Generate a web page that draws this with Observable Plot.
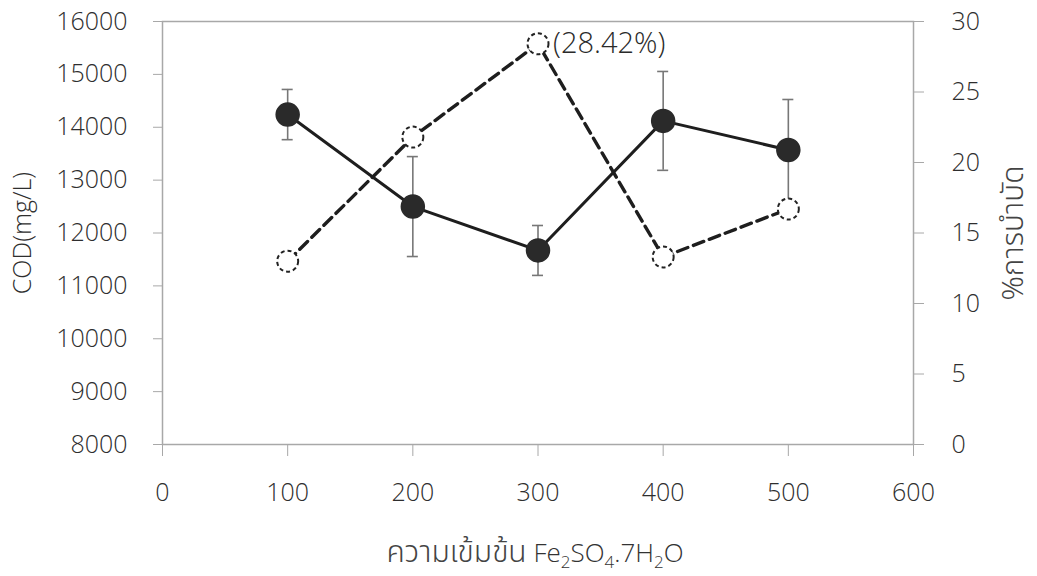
<!DOCTYPE html>
<html><head><meta charset="utf-8">
<script src="https://cdn.jsdelivr.net/npm/d3@7"></script>
<script src="https://cdn.jsdelivr.net/npm/@observablehq/plot@0.6"></script>
<style>
body{margin:0;background:#fff;font-family:"Open Sans",sans-serif;}
#wrap{position:relative;width:1037px;height:576px;}
#xlabel{position:absolute;left:535px;top:530px;transform:translateX(-50%);font-size:26px;font-weight:300;color:#333;white-space:nowrap;font-family:"Open Sans","Noto Sans Thai",sans-serif;}
#xlabel .th{font-family:"Noto Sans Thai",sans-serif;font-size:30px;font-weight:300;color:#444;}
#xlabel sub{font-size:17px;vertical-align:-6px;}
</style></head><body>
<div id="wrap"><div id="chart"></div><div id="xlabel"><span class="th">ความเข้มข้น</span> Fe<sub>2</sub>SO<sub>4</sub>.7H<sub>2</sub>O</div></div>
<script>
const concentrations = [100, 200, 300, 400, 500];
const codMean = [14240, 12500, 11670, 14120, 13570];
const codErr = [475, 945, 472, 935, 955];
const removalPct = [13.0, 21.8, 28.42, 13.3, 16.7];
const xTicks = [0, 100, 200, 300, 400, 500, 600];
const codTicks = [8000, 9000, 10000, 11000, 12000, 13000, 14000, 15000, 16000];
const pctTicks = [0, 5, 10, 15, 20, 25, 30];
const leftLabel = "COD(mg/L)";
const rightLabel = "%การบำบัด";
const peakLabel = "(28.42%)";

const toCOD = p => 8000 + p * (8000 / 30);
const fromCOD = c => (c - 8000) * 30 / 8000;

const data = concentrations.map((x, i) => ({x, cod: codMean[i], err: codErr[i], pct: removalPct[i]}));
const caps = data.flatMap(d => [d.cod - d.err, d.cod + d.err].map(y => ({x: d.x, y})));
const peak = data.reduce((a, b) => (b.pct > a.pct ? b : a));

const chart = Plot.plot({
  width: 1037,
  height: 520,
  marginLeft: 162,
  marginRight: 124,
  marginTop: 21,
  marginBottom: 76,
  style: {fontFamily: "'Open Sans', 'Noto Sans Thai', sans-serif", fontSize: "25px", fontWeight: 300, color: "#2e2e2e", background: "white", overflow: "visible"},
  x: {domain: [0, 600]},
  y: {domain: [8000, 16000]},
  marks: [
    Plot.frame({stroke: "#a8a8a8", strokeWidth: 1.5}),
    Plot.axisX(xTicks, {tickSize: 12, tickPadding: 27, stroke: "#a8a8a8", tickFormat: d => String(d), label: null}),
    Plot.axisY(codTicks, {anchor: "left", tickSize: 9, tickPadding: 26, stroke: "#a8a8a8", tickFormat: d => String(d), label: null}),
    Plot.axisY(pctTicks.map(toCOD), {anchor: "right", tickSize: 10, tickPadding: 28, stroke: "#a8a8a8", tickFormat: d => String(Math.round(fromCOD(d))), label: null}),
    Plot.text([leftLabel], {frameAnchor: "left", rotate: -90, dx: -140, textAnchor: "middle", lineAnchor: "middle", fontSize: 25}),
    Plot.text([rightLabel], {frameAnchor: "right", rotate: -90, dx: 100, textAnchor: "middle", lineAnchor: "middle", fontSize: 30, fontFamily: "'Noto Sans Thai', sans-serif", fontWeight: 300, fill: "#444"}),
    Plot.ruleX(data, {x: "x", y1: d => d.cod - d.err, y2: d => d.cod + d.err, stroke: "#777", strokeWidth: 1.6}),
    Plot.ruleY(caps, {y: "y", x1: d => d.x - 4.4, x2: d => d.x + 4.4, stroke: "#777", strokeWidth: 1.6}),
    Plot.line(data, {x: "x", y: d => toCOD(d.pct), stroke: "#1e1e1e", strokeWidth: 3.4, strokeDasharray: "11,6"}),
    Plot.line(data, {x: "x", y: "cod", stroke: "#1e1e1e", strokeWidth: 3}),
    Plot.dot(data, {x: "x", y: d => toCOD(d.pct), r: 10.5, fill: "white", stroke: "#222", strokeWidth: 2, strokeDasharray: "4,3"}),
    Plot.dot(data, {x: "x", y: "cod", r: 11.5, fill: "#2a2a2a", stroke: "#2a2a2a"}),
    Plot.text([peak], {x: "x", y: d => toCOD(d.pct), text: () => peakLabel, textAnchor: "start", dx: 15, fontSize: 29, fill: "#2a2a2a"})
  ]
});
document.getElementById("chart").appendChild(chart);
</script>
</body></html>
